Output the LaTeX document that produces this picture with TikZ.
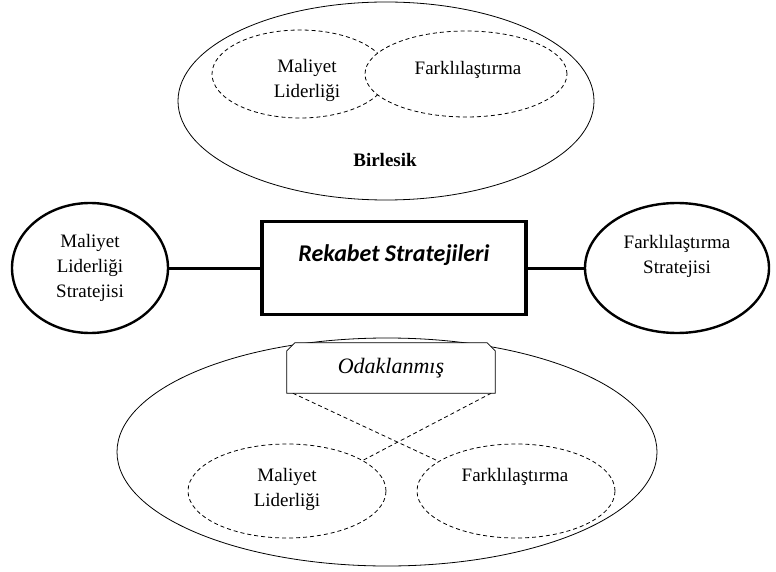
\documentclass[tikz,border=0pt]{standalone}
\usepackage{fontspec}
\setmainfont{Liberation Serif}
\newfontfamily\calfont{Carlito}
\usetikzlibrary{shapes.geometric,calc}
\tikzset{
  outer/.style={draw, ellipse, inner sep=0pt, line width=0.8pt},
  inner/.style={draw, ellipse, inner sep=0pt, line width=0.8pt, dash pattern=on 4pt off 3pt},
  strat/.style={draw, ellipse, inner sep=0pt, line width=2.4pt},
  label/.style={align=center, inner sep=0pt, font=\fontsize{19}{25}\selectfont},
  link/.style={line width=3pt},
  cross/.style={line width=0.8pt, dash pattern=on 4pt off 3pt},
}
\begin{document}
\begin{tikzpicture}[x=1pt,y=-1pt]
\useasboundingbox (0,0) rectangle (776,572);

% combined strategy
\node[outer, minimum width=416pt, minimum height=198pt] (comb) at (386,101) {};
\node[inner, minimum width=176pt, minimum height=88pt] (combL) at (300,74) {};
\node[inner, fill=white, minimum width=202pt, minimum height=86pt] (combR) at (466,74) {};
\node[label] (combLt) at (307,80) {Maliyet\\Liderliği};
\node[label] (combRt) at (468,70) {Farklılaştırma};
\node[label, font=\fontsize{19}{25}\selectfont\bfseries] (combt) at (385,160) {Birlesik};

% central box and the two generic strategies
\node[draw, line width=3.5pt, minimum width=264pt, minimum height=93pt] (core) at (394,268) {};
\node[inner sep=0pt, font=\calfont\fontsize{24}{28}\selectfont\bfseries\itshape] (coret) at (394,255) {Rekabet Stratejileri};
\node[strat, minimum width=156pt, minimum height=130pt] (cost) at (90,268) {};
\node[label] (costt) at (90,268) {Maliyet\\Liderliği\\Stratejisi};
\node[strat, minimum width=184pt, minimum height=130pt] (diff) at (677,268) {};
\node[label] (difft) at (677,256) {Farklılaştırma\\Stratejisi};
\draw[link] (cost.east) -- (core.west);
\draw[link] (core.east) -- (diff.west);

% focused strategy
\node[outer, minimum width=540pt, minimum height=228pt] (foc) at (387,452) {};
\node[inner, minimum width=198pt, minimum height=94pt] (focL) at (287,491) {};
\node[inner, minimum width=198pt, minimum height=94pt] (focR) at (516,491) {};
\node[label] (focLt) at (287,489) {Maliyet\\Liderliği};
\node[label] (focRt) at (515,477) {Farklılaştırma};
\node[inner sep=0pt, minimum width=208pt, minimum height=50pt] (focbox) at (391,368) {};
\draw[cross] ($(focbox.south west)+(6,0)$) -- (focR.159.4);
\draw[cross] ($(focbox.south east)+(-4,0)$) -- (focL.22.2);
\draw[line width=0.8pt, fill=white]
  (focbox.south west) -- ($(focbox.north west)+(0,8)$) -- ($(focbox.north west)+(8,0)$)
  -- ($(focbox.north east)+(-8,0)$) -- ($(focbox.north east)+(0,8)$) -- (focbox.south east) -- cycle;
\node[inner sep=0pt, font=\fontsize{22}{26}\selectfont\itshape] (focboxt) at (391,368) {Odaklanmış};
\end{tikzpicture}
\end{document}
